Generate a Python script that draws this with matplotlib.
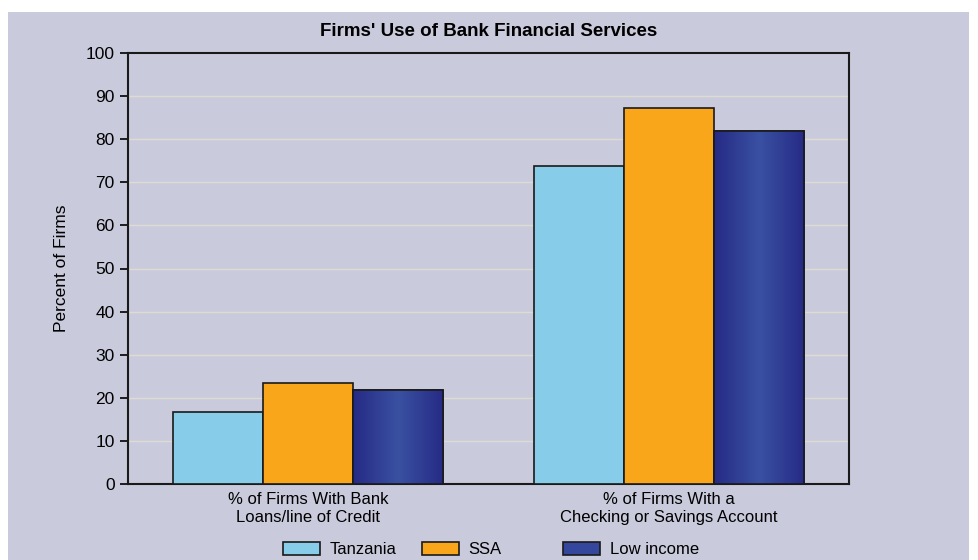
import numpy as np
import matplotlib.pyplot as plt
from matplotlib.patches import Rectangle, Patch
from matplotlib.colors import LinearSegmentedColormap

categories = ["% of Firms With Bank\nLoans/line of Credit",
              "% of Firms With a\nChecking or Savings Account"]
series = ["Tanzania", "SSA", "Low income"]
values = {
    "Tanzania": [16.7, 73.8],
    "SSA": [23.4, 87.2],
    "Low income": [21.8, 81.9],
}
yticks = list(range(0, 101, 10))

colors = {"Tanzania": "#87cdea", "SSA": "#f9a61a", "Low income": "#34479c"}
bg = "#c9cbdc"

plt.rcParams["font.family"] = ["Liberation Sans Narrow", "Liberation Sans", "DejaVu Sans"]

fig = plt.figure(figsize=(9.79, 5.6), dpi=100)
fig.patches.append(Rectangle((8 / 979, 0), (969 - 8) / 979, (560 - 12) / 560,
                             transform=fig.transFigure, facecolor=bg,
                             edgecolor="none", zorder=-10))
ax = fig.add_axes([128 / 979, 1 - 484 / 560, (849 - 128) / 979, (484 - 53) / 560])
ax.set_facecolor(bg)

x = np.arange(len(categories))
width = 0.25
grad = LinearSegmentedColormap.from_list("navy", ["#262b85", "#3a51a2", "#262b85"])
for i, name in enumerate(series):
    bars = ax.bar(x + (i - 1) * width, values[name], width, color=colors[name],
                  edgecolor="#1a1a1a", linewidth=1.2, zorder=3)
    if name == "Low income":
        for b in bars:
            x0, w, h = b.get_x(), b.get_width(), b.get_height()
            img = ax.imshow(np.linspace(0, 1, 64).reshape(1, -1), cmap=grad,
                            extent=(x0, x0 + w, 0, h), aspect="auto", zorder=3.5)
            img.set_clip_path(b)
            ax.add_patch(Rectangle((x0, 0), w, h, fill=False, edgecolor="#1a1a1a",
                                   linewidth=1.2, zorder=4))

ax.set_xlim(-0.5, 1.5)
ax.set_ylim(0, 100)
ax.set_yticks(yticks)
ax.set_xticks(x)
ax.set_xticklabels(categories, fontsize=12)
ax.tick_params(axis="x", length=0, pad=6)
ax.tick_params(axis="y", direction="out", length=6, width=1.2, labelsize=12.5)
ax.yaxis.grid(True, color="#dedcd0", linewidth=1, zorder=0)
ax.set_axisbelow(True)
for s in ax.spines.values():
    s.set_linewidth(1.5)
    s.set_color("#1a1a1a")

ax.set_ylabel("Percent of Firms", fontsize=12.5, labelpad=12)
ax.set_title("Firms' Use of Bank Financial Services", fontsize=13.5,
             fontweight="bold", pad=12)

# legend entries sit at fixed, evenly spaced spots along the bottom
legend_x = [283, 422, 563]
for name, lx in zip(series, legend_x):
    h = Patch(facecolor=colors[name], edgecolor="#1a1a1a", linewidth=1.2)
    leg = fig.legend([h], [name], loc="upper left",
                     bbox_to_anchor=(lx / 979, 1 - 542 / 560),
                     frameon=False, fontsize=12, handlelength=2.2, handleheight=0.85,
                     handletextpad=0.6, borderpad=0, borderaxespad=0)

fig.savefig("out.png", dpi=100)
